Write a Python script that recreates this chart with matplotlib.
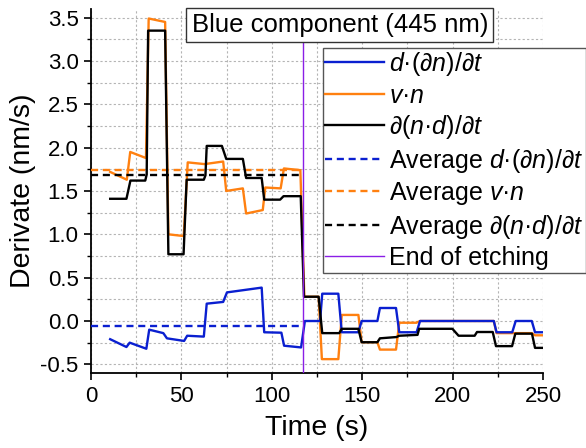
#!/usr/bin/env python3
# -*- coding: utf-8 -*-
"""
Blue component (445 nm) - derivative contributions vs time
"""

import matplotlib
matplotlib.use('Agg')
matplotlib.rcParams['font.family'] = ['Liberation Sans', 'DejaVu Sans']
matplotlib.rcParams['mathtext.fontset'] = 'custom'
matplotlib.rcParams['mathtext.rm'] = 'Liberation Sans'
matplotlib.rcParams['mathtext.it'] = 'Liberation Sans:italic'
matplotlib.rcParams['axes.unicode_minus'] = False

import matplotlib.pyplot as plt
from matplotlib.ticker import MultipleLocator, FormatStrFormatter

# === data ===
# d·(∂n)/∂t  (blue)
t_blue = [10.6, 19.6, 21.4, 30.6, 32.2, 40.0, 42.0, 51.5, 53.2, 62.4, 64.0, 73.1,
          75.2, 94.4, 95.8, 105.3, 106.8, 116.2, 118.3, 126.7, 127.9, 136.8, 138.7,
          147.9, 149.7, 158.4, 159.8, 168.7, 170.5, 180.1, 182.0, 222.8, 224.3,
          233.0, 234.9, 243.8, 245.6, 250.0]
y_blue = [-0.21, -0.30, -0.25, -0.32, -0.10, -0.14, -0.20, -0.23, -0.17, -0.18, 0.20, 0.22,
          0.33, 0.385, -0.13, -0.135, -0.285, -0.305, 0.0, 0.0, 0.315, 0.315, -0.13,
          -0.13, 0.0, 0.0, 0.15, 0.15, -0.13, -0.13, 0.0, 0.0, -0.13,
          -0.13, 0.0, 0.0, -0.13, -0.13]

# v·n  (orange)
t_orange = [10.6, 19.8, 21.7, 30.4, 31.9, 41.0, 42.8, 51.3, 53.5, 62.8, 73.1, 74.8,
            84.0, 85.8, 95.0, 96.4, 104.9, 106.7, 115.8, 118.0, 125.9, 127.7, 136.8,
            138.7, 147.9, 149.7, 158.4, 159.8, 168.7, 170.5, 180.0, 182.0, 222.8,
            224.3, 243.9, 245.6, 250.0]
y_orange = [1.72, 1.63, 1.95, 1.88, 3.49, 3.45, 1.00, 0.98, 1.83, 1.81, 1.84, 1.50,
            1.53, 1.24, 1.28, 1.54, 1.53, 1.76, 1.74, 0.28, 0.28, -0.44, -0.44,
            0.07, 0.07, -0.245, -0.245, -0.33, -0.33, -0.02, -0.02, 0.0, 0.0,
            -0.14, -0.14, -0.165, -0.165]

# ∂(n·d)/∂t  (black)
t_black = [10.6, 19.6, 21.8, 30.0, 30.8, 31.6, 41.0, 42.8, 51.2, 52.9, 62.4, 63.3,
           64.0, 72.4, 74.8, 84.0, 85.8, 94.4, 95.8, 104.6, 106.5, 116.0, 117.8, 125.9,
           127.9, 137.3, 138.7, 147.9, 149.7, 158.4, 159.8, 169.0, 170.5, 180.6,
           181.5, 199.9, 203.3, 212.2, 213.5, 222.2, 224.0, 232.9, 234.7, 243.9,
           245.6, 250.0]
y_black = [1.41, 1.41, 1.62, 1.62, 1.69, 3.35, 3.35, 0.77, 0.77, 1.63, 1.63, 1.68,
           2.02, 2.02, 1.87, 1.87, 1.65, 1.65, 1.40, 1.40, 1.44, 1.44, 0.28, 0.28,
           -0.14, -0.14, -0.09, -0.09, -0.245, -0.245, -0.20, -0.185, -0.17, -0.16,
           -0.09, -0.09, -0.17, -0.17, -0.127, -0.127, -0.29, -0.29, -0.146, -0.146,
           -0.31, -0.31]

# averages over the etching period
t_avg = [0, 117]
avg_blue = -0.055
avg_orange = 1.745
avg_black = 1.685

t_end = 117  # end of etching

c_blue = '#0a1fd0'
c_orange = '#ff8010'
c_black = 'black'
c_purple = '#8a1ee6'

# === figure ===
fig = plt.figure(figsize=(5.86, 4.48), dpi=100)
ax = fig.add_axes([0.1553, 0.1674, 0.7713, 0.8126])

ax.plot(t_blue, y_blue, color=c_blue, lw=1.7, zorder=3, label=r'$d$·(∂$n$)/∂$t$')
ax.plot(t_orange, y_orange, color=c_orange, lw=1.7, zorder=2, label=r'$v$·$n$')
ax.plot(t_black, y_black, color=c_black, lw=1.7, zorder=4, label=r'∂($n$·$d$)/∂$t$')

ax.plot(t_avg, [avg_blue] * 2, color=c_blue, lw=1.7, ls=(0, (3, 2)), zorder=3,
        label=r'Average $d$·(∂$n$)/∂$t$')
ax.plot(t_avg, [avg_orange] * 2, color=c_orange, lw=1.7, ls=(0, (3, 2)), zorder=3,
        label=r'Average $v$·$n$')
ax.plot(t_avg, [avg_black] * 2, color=c_black, lw=1.7, ls=(0, (3, 2)), zorder=3,
        label=r'Average ∂($n$·$d$)/∂$t$')
ax.axvline(t_end, color=c_purple, lw=1.0, zorder=5, label='End of etching')

ax.set_xlim(0, 250)
ax.set_ylim(-0.6, 3.6)
ax.xaxis.set_major_locator(MultipleLocator(50))
ax.xaxis.set_minor_locator(MultipleLocator(25))
ax.yaxis.set_major_locator(MultipleLocator(0.5))
ax.yaxis.set_minor_locator(MultipleLocator(0.25))
ax.yaxis.set_major_formatter(FormatStrFormatter('%.1f'))

ax.grid(True, which='both', color='#b4b4b4', lw=0.8, ls=(0, (2, 2)), zorder=0)
for side in ['top', 'right']:
    ax.spines[side].set_visible(False)
for side in ['left', 'bottom']:
    ax.spines[side].set_linewidth(1.3)

ax.tick_params(which='major', direction='out', length=5, width=1.2, labelsize=16, pad=4)
ax.tick_params(which='minor', direction='out', length=3, width=1.0)

ax.set_xlabel('Time (s)', fontsize=20.5, labelpad=6)
ax.set_ylabel('Derivate (nm/s)', fontsize=20.5, labelpad=3)

# title box
fig.text(0.580, 0.944, 'Blue component (445 nm)', fontsize=18.5, ha='center', va='center',
         bbox=dict(boxstyle='square,pad=0.2', facecolor='white', edgecolor='#333333', lw=1))

leg = ax.legend(loc='upper left', bbox_to_anchor=(0.5507, 0.8935), bbox_transform=fig.transFigure,
                fontsize=18, frameon=True, fancybox=False, framealpha=1, edgecolor='#555555',
                borderpad=0.1, borderaxespad=0, labelspacing=0.22, handlelength=2.35,
                handletextpad=0.2)
leg.get_frame().set_linewidth(1.0)

fig.savefig('out.png', dpi=100, facecolor='white')
plt.close(fig)
